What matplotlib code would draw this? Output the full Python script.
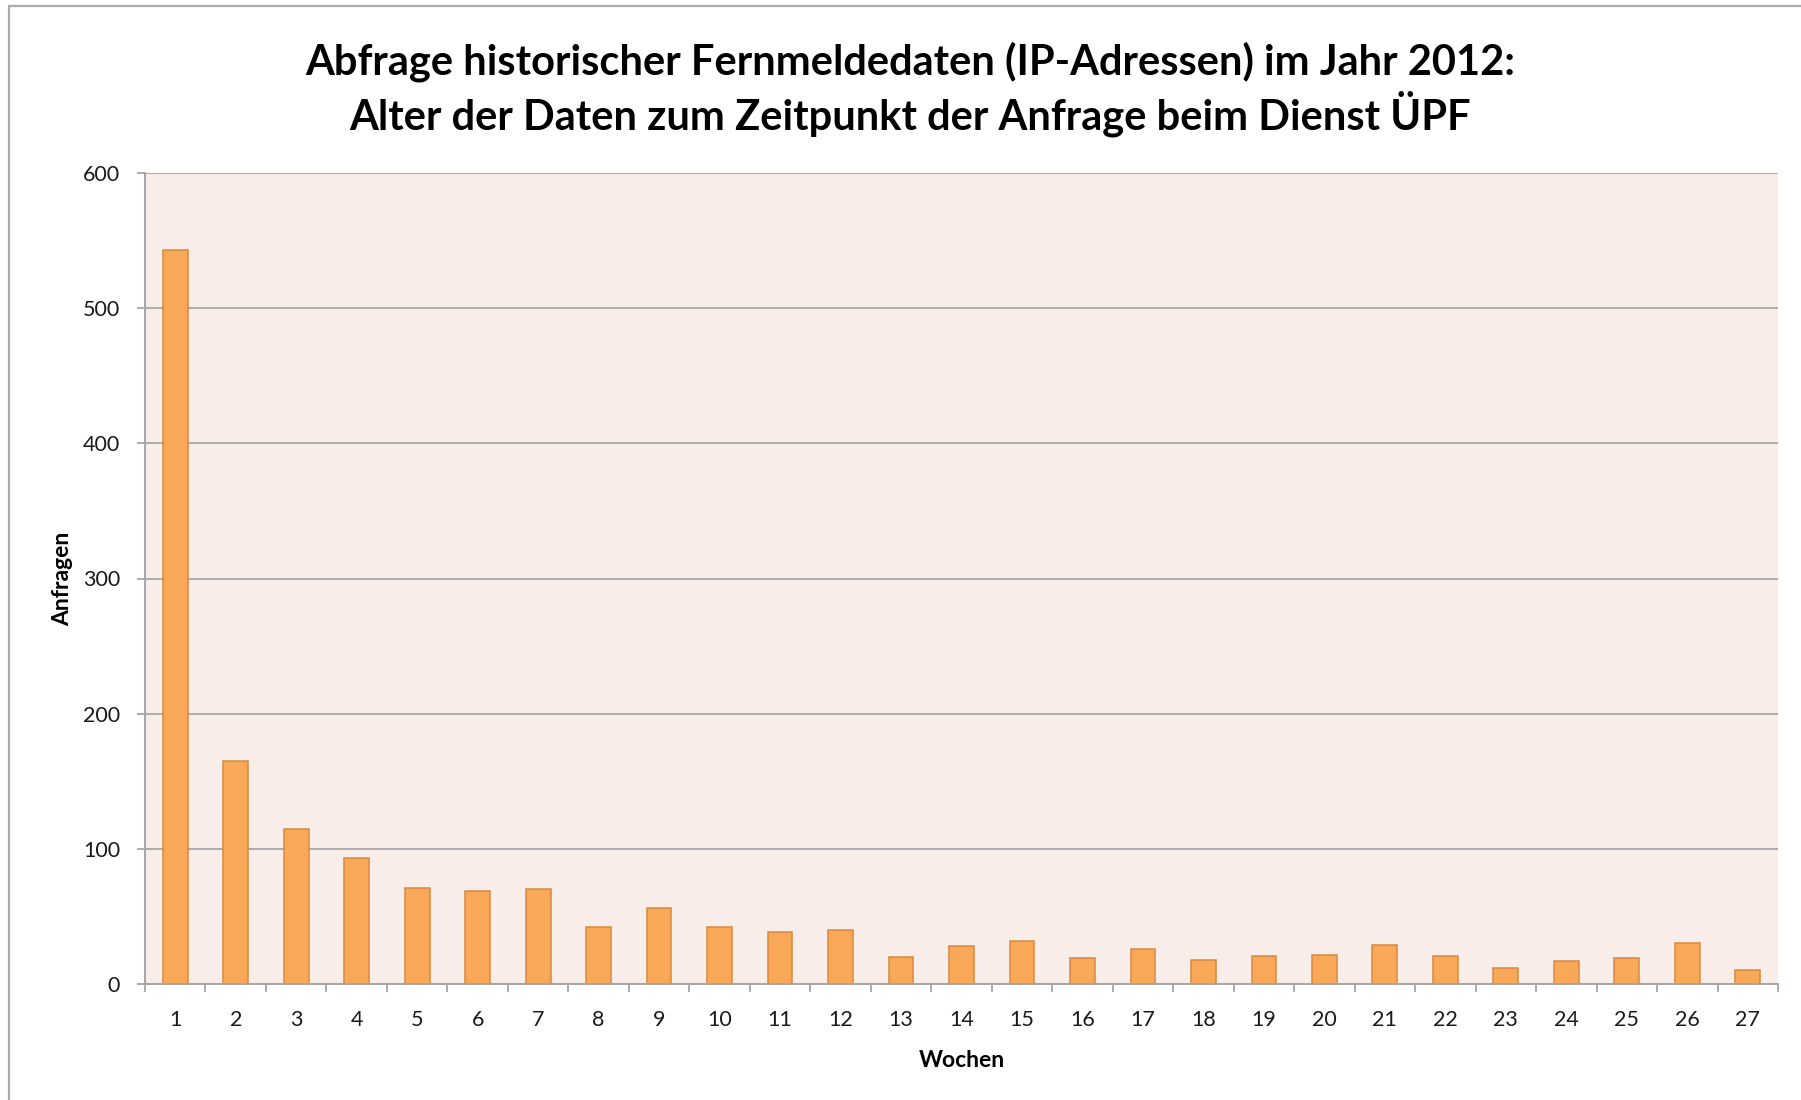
import matplotlib
matplotlib.use("Agg")
import matplotlib.pyplot as plt
from matplotlib.patches import Rectangle
import numpy as np

plt.rcParams['font.family'] = ['Lato', 'DejaVu Sans']

weeks = [str(i) for i in range(1, 28)]
anfragen = [543, 165, 115, 93, 71, 69, 70, 42, 56, 42, 38.5, 40, 20, 28, 31.5,
            19, 26, 18, 21, 21.5, 28.5, 20.5, 11.5, 17, 19.5, 30, 10]
y_ticks = [0, 100, 200, 300, 400, 500, 600]

title = ("Abfrage historischer Fernmeldedaten (IP-Adressen) im Jahr 2012:\n"
         "Alter der Daten zum Zeitpunkt der Anfrage beim Dienst ÜPF")

W, H = 1801, 1100
fig = plt.figure(figsize=(W / 100, H / 100), dpi=100)
fig.patch.set_facecolor('white')

# outer chart border (extends beyond right/bottom edge like reference)
fig.add_artist(Rectangle((9 / W, -0.1), 1.2, 1 - 6 / H + 0.1, transform=fig.transFigure,
                         fill=False, edgecolor='#ABABAB', linewidth=1.6))

ax = fig.add_axes([145 / W, 1 - 984 / H, (1778 - 145) / W, (984 - 173) / H])
ax.set_facecolor('#F9EDE9')

x = np.arange(len(weeks))
ax.bar(x, anfragen, width=0.41, color='#F9A857', edgecolor='#D6893F', linewidth=1.1, zorder=3)

ax.set_xlim(-0.5, len(weeks) - 0.5)
ax.set_ylim(0, 600)
ax.set_yticks(y_ticks)
ax.set_yticklabels([str(v) for v in y_ticks])
ax.yaxis.grid(True, color='#A6A6A6', linewidth=1.3, zorder=1)
ax.set_axisbelow(True)

ax.set_xticks(x)
ax.set_xticklabels(weeks)
ax.set_xticks(np.arange(-0.5, len(weeks)), minor=True)
ax.tick_params(axis='x', which='major', length=0, pad=19, labelsize=15.5, labelcolor='#1a1a1a')
ax.tick_params(axis='x', which='minor', length=6, width=1.3, color='#A6A6A6', direction='out')
ax.tick_params(axis='y', length=6, width=1.3, color='#A6A6A6', pad=12, labelsize=15.5,
               labelcolor='#1a1a1a')

for s in ['top', 'right']:
    ax.spines[s].set_visible(False)
for s in ['left', 'bottom']:
    ax.spines[s].set_color('#A6A6A6')
    ax.spines[s].set_linewidth(1.4)
    ax.spines[s].set_zorder(4)

ax.set_ylabel('Anfragen', fontsize=16.5, fontweight='bold', labelpad=7)
ax.set_xlabel('Wochen', fontsize=16.5, fontweight='bold', labelpad=14)

fig.text(910 / W, 1 - 89 / H, title, ha='center', va='center', fontsize=30,
         fontweight='bold', linespacing=1.22, color='black')

fig.savefig('out.png', dpi=100, facecolor='white')
